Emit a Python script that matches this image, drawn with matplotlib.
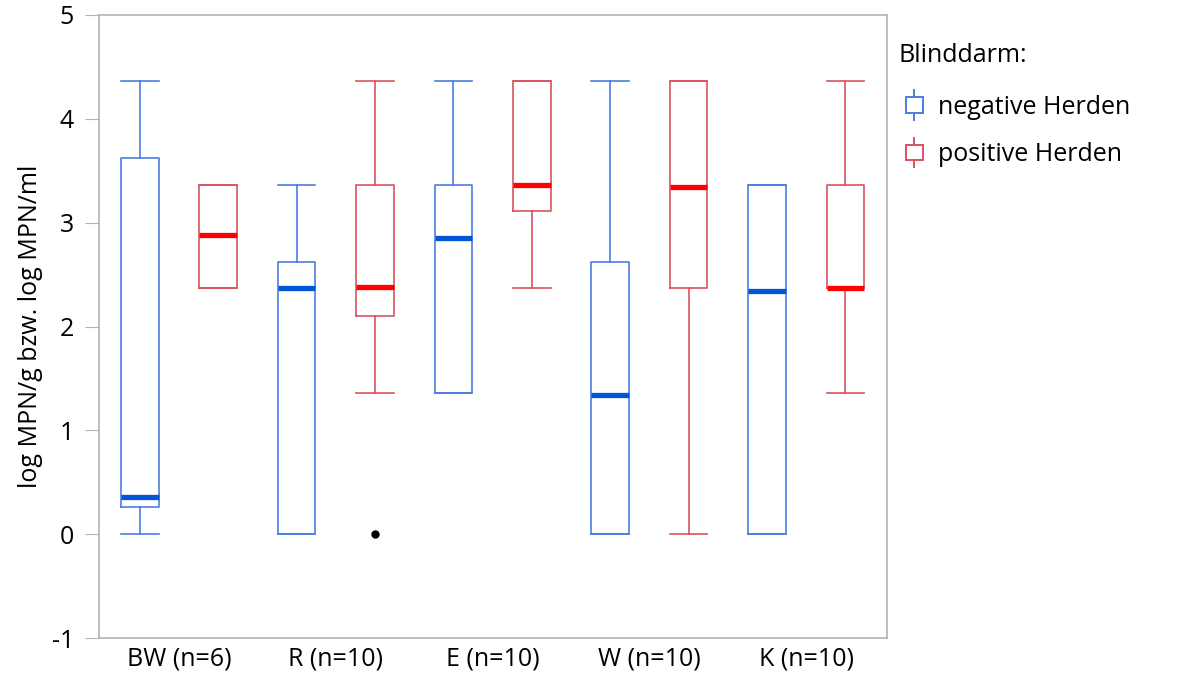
import matplotlib
matplotlib.use("Agg")
import matplotlib.pyplot as plt
from matplotlib.legend_handler import HandlerBase
from matplotlib.patches import Rectangle
from matplotlib.lines import Line2D

plt.rcParams['font.family'] = ['Open Sans', 'DejaVu Sans']
plt.rcParams['axes.unicode_minus'] = False

# Daten (log MPN)
groups = ["BW (n=6)", "R (n=10)", "E (n=10)", "W (n=10)", "K (n=10)"]

neg_whislo = [0.00, 0.00, 1.36, 0.00, 0.00]
neg_q1     = [0.26, 0.00, 1.36, 0.00, 0.00]
neg_med    = [0.36, 2.37, 2.85, 1.34, 2.34]
neg_q3     = [3.62, 2.62, 3.36, 2.62, 3.36]
neg_whishi = [4.36, 3.36, 4.36, 4.36, 3.36]

pos_whislo = [2.37, 1.36, 2.37, 0.00, 1.36]
pos_q1     = [2.37, 2.10, 3.11, 2.37, 2.37]
pos_med    = [2.88, 2.38, 3.36, 3.34, 2.37]
pos_q3     = [3.36, 3.36, 4.36, 4.36, 3.36]
pos_whishi = [3.36, 4.36, 4.36, 4.36, 4.36]
pos_fliers = [[], [0.0], [], [], []]

BLUE = "#4d7de0"
BLUE_MED = "#0055d8"
RED = "#d9535f"
RED_MED = "#ff0000"
GREY = "#b4b4b4"
FS = 18


def make_stats(lo, q1, med, q3, hi, fl=None):
    out = []
    for i in range(len(lo)):
        out.append(dict(whislo=lo[i], q1=q1[i], med=med[i], q3=q3[i], whishi=hi[i],
                        fliers=(fl[i] if fl else [])))
    return out


fig = plt.figure(figsize=(11.77, 6.79), dpi=100)
ax = fig.add_axes([99 / 1177, 41 / 679, 788 / 1177, 623 / 679])

w = 0.48
neg_pos = [2 * i for i in range(len(groups))]
pos_pos = [2 * i + 1 for i in range(len(groups))]

for stats, pos, col, mcol in [
    (make_stats(neg_whislo, neg_q1, neg_med, neg_q3, neg_whishi), neg_pos, BLUE, BLUE_MED),
    (make_stats(pos_whislo, pos_q1, pos_med, pos_q3, pos_whishi, pos_fliers), pos_pos, RED, RED_MED),
]:
    ax.bxp(stats, positions=pos, widths=w, capwidths=w, showfliers=True,
           boxprops=dict(color=col, linewidth=1.2),
           whiskerprops=dict(color=col, linewidth=1.2),
           capprops=dict(color=col, linewidth=1.2),
           medianprops=dict(color=mcol, linewidth=3.8, solid_capstyle='butt'),
           flierprops=dict(marker='o', markerfacecolor='black', markeredgecolor='black',
                           markersize=5))

ax.set_xlim(-0.52, 9.53)
ax.set_ylim(-1, 5)
ax.set_yticks(range(-1, 6))
ax.set_xticks([2 * i + 0.5 for i in range(len(groups))])
ax.set_xticklabels(groups, fontsize=FS)
ax.tick_params(axis='x', length=0, pad=6)
ax.tick_params(axis='y', length=10, color=GREY, labelsize=FS, pad=8)
for s in ax.spines.values():
    s.set_color(GREY)
    s.set_linewidth(1.2)
ax.set_ylabel("log MPN/g bzw. log MPN/ml", fontsize=FS, labelpad=6)


class BoxHandler(HandlerBase):
    def create_artists(self, legend, orig_handle, xdescent, ydescent, width, height, fontsize, trans):
        col = orig_handle.get_color()
        cx = width / 2 - xdescent
        cy = height / 2 - ydescent
        bw = height * 0.95
        bh = height * 0.9
        rect = Rectangle((cx - bw / 2, cy - bh / 2), bw, bh,
                         facecolor='white', edgecolor=col, linewidth=1.4, transform=trans,
                         zorder=3)
        ln = Line2D([cx, cx], [cy - height * 0.85, cy + height * 0.85],
                    color=col, linewidth=1.4, transform=trans, zorder=2)
        return [ln, rect]


h1 = Line2D([], [], color=BLUE)
h2 = Line2D([], [], color=RED)
leg = ax.legend([h1, h2], ["negative Herden", "positive Herden"], title="Blinddarm:",
                handler_map={Line2D: BoxHandler()}, loc='upper left',
                bbox_to_anchor=(1.0, 0.9726), frameon=False, fontsize=FS,
                title_fontsize=FS, handlelength=1.28, handletextpad=0.32,
                labelspacing=0.9, borderaxespad=0.0, borderpad=0.45)
leg._legend_box.align = "left"
leg._legend_box.sep = 19

fig.savefig("out.png", dpi=100)
